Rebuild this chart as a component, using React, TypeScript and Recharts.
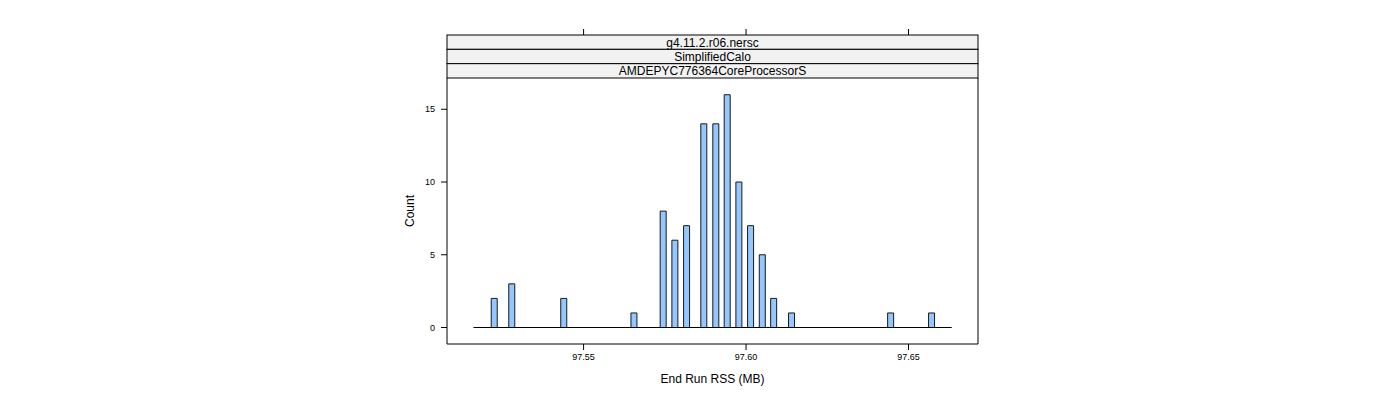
import React from "react";
import { ComposedChart, Bar, XAxis, YAxis, ReferenceLine } from "recharts";

// Histogram bins (mid-points of the non-empty bins, MB) and their counts
const binMids = [97.5224, 97.5278, 97.5438, 97.5654, 97.5744, 97.578, 97.5816, 97.5869, 97.5906, 97.5941, 97.5977, 97.6013, 97.6049, 97.6084, 97.6139, 97.6444, 97.657];
const counts = [2, 3, 2, 1, 8, 6, 7, 14, 14, 16, 10, 7, 5, 2, 1, 1, 1];
// full range covered by the histogram breaks (empty bins drawn as a flat line)
const histRange = [97.5161, 97.6633];
const xTicks = [97.55, 97.6, 97.65];
const yTicks = [0, 5, 10, 15];
const xDomain = [97.50796, 97.67139];
const yDomain = [-1.134, 17.15];
const strips = ["g4.11.2.r06.nersc", "SimplifiedCalo", "AMDEPYC776364CoreProcessorS"];
const xTitle = "End Run RSS (MB)";
const yTitle = "Count";

const data = binMids.map((x, i) => ({ x, count: counts[i] }));

const FONT = "'Liberation Sans', Arial, Helvetica, sans-serif";

const TopTick = (props: any) => {
  const { x } = props;
  return <line x1={x} x2={x} y1={29} y2={35} stroke="#000" strokeWidth={1} />;
};

export default function App() {
  const W = 1400;
  const H = 400;
  const left = 447;
  const right = 978;
  const top = 78;
  const bottom = 344;
  const yAxisW = 40;
  const rAxisW = 10;
  const xAxisH = 30;
  const tAxisH = 10;
  const stripTop = 35;
  const stripH = (top - stripTop) / strips.length;
  return (
    <div style={{ position: "absolute", left: 0, top: 0, width: W, height: H, background: "#fff" }}>
      <ComposedChart
        width={W}
        height={H}
        data={data}
        margin={{ top: top - tAxisH, bottom: H - bottom - xAxisH, left: left - yAxisW, right: W - right - rAxisW }}
        style={{ fontFamily: FONT }}
      >
        <XAxis
          xAxisId="b"
          dataKey="x"
          type="number"
          domain={xDomain}
          allowDataOverflow
          ticks={xTicks}
          tickFormatter={(v: number) => v.toFixed(2)}
          height={xAxisH}
          tickSize={6}
          tickMargin={4}
          interval={0}
          stroke="#000"
          axisLine={{ stroke: "#000" }}
          tickLine={{ stroke: "#000" }}
          tick={{ fill: "#000", fontSize: 9, fontFamily: FONT }}
        />
        <XAxis
          xAxisId="t"
          orientation="top"
          dataKey="x"
          type="number"
          domain={xDomain}
          allowDataOverflow
          ticks={xTicks}
          height={tAxisH}
          interval={0}
          axisLine={false}
          tickLine={false}
          tick={<TopTick />}
        />
        <YAxis
          yAxisId="l"
          type="number"
          domain={yDomain}
          allowDataOverflow
          ticks={yTicks}
          width={yAxisW}
          tickSize={6}
          tickMargin={6}
          interval={0}
          axisLine={{ stroke: "#000" }}
          tickLine={{ stroke: "#000" }}
          tick={{ fill: "#000", fontSize: 9, fontFamily: FONT }}
        />
        <YAxis
          yAxisId="r"
          orientation="right"
          type="number"
          domain={yDomain}
          allowDataOverflow
          ticks={yTicks}
          width={rAxisW}
          tickSize={6}
          interval={0}
          axisLine={{ stroke: "#000" }}
          tickLine={{ stroke: "#000" }}
          tick={false}
        />
        <ReferenceLine
          xAxisId="b"
          yAxisId="l"
          segment={[
            { x: histRange[0], y: 0 },
            { x: histRange[1], y: 0 },
          ]}
          stroke="#000"
          strokeWidth={1}
          ifOverflow="visible"
        />
        <Bar
          xAxisId="b"
          yAxisId="l"
          dataKey="count"
          barSize={6}
          fill="#94C6FF"
          stroke="#1a1a1a"
          strokeWidth={1}
          isAnimationActive={false}
        />
      </ComposedChart>
      <svg
        width={W}
        height={H}
        style={{ position: "absolute", left: 0, top: 0, pointerEvents: "none", fontFamily: FONT }}
      >
        {strips.map((s, i) => (
          <g key={s}>
            <rect
              x={left}
              y={stripTop + i * stripH}
              width={right - left}
              height={stripH}
              fill="#F2F2F2"
              stroke="#000"
              strokeWidth={1}
            />
            <text
              x={(left + right) / 2}
              y={stripTop + i * stripH + stripH / 2 + 0.5}
              textAnchor="middle"
              dominantBaseline="central"
              fontSize={12}
              fill="#000"
            >
              {s}
            </text>
          </g>
        ))}
        <text x={(left + right) / 2} y={379} textAnchor="middle" dominantBaseline="central" fontSize={12} fill="#000">
          {xTitle}
        </text>
        <text
          x={410}
          y={(top + bottom) / 2}
          textAnchor="middle"
          dominantBaseline="central"
          fontSize={12}
          fill="#000"
          transform={`rotate(-90 410 ${(top + bottom) / 2})`}
        >
          {yTitle}
        </text>
      </svg>
    </div>
  );
}
